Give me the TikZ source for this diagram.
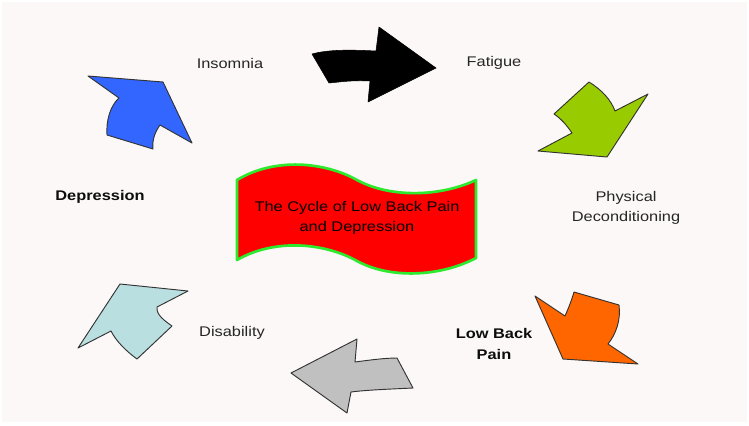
\documentclass[tikz,border=0pt]{standalone}
\usepackage{fontspec}
\setmainfont{Liberation Sans}[FakeStretch=1.17]

\definecolor{paper}{HTML}{FCF8F7}
\definecolor{leaf}{HTML}{99CC00}
\definecolor{rust}{HTML}{FF6600}
\definecolor{ash}{HTML}{C0C0C0}
\definecolor{ice}{HTML}{B9DFE1}
\definecolor{sky}{HTML}{3366FF}
\definecolor{lime}{HTML}{2EEA2E}

\begin{document}
\begin{tikzpicture}[x=0.75pt,y=-0.75pt,
  shp/.style={draw=black!80, line width=0.7pt, line join=round},
  lbl/.style={text=black!85, font=\fontsize{10.5}{15}\selectfont, align=center, inner sep=0pt}]
  \useasboundingbox (0,0) rectangle (749,425);
  \fill [white] (0,0) rectangle (749,425);
  \fill [paper] (2,2) rectangle (747,422);

  % banner in the middle
  \draw [lime, line width=2pt, fill=red, line join=round]
    (237,180) .. controls (275,157) and (325,162) .. (357,180)
              .. controls (390,198) and (440,197) .. (476,180)
           -- (476,258) .. controls (440,277) and (390,279) .. (357,261)
              .. controls (325,243) and (275,238) .. (237,260) -- cycle;
  \node [lbl, text=black] (title) at (357,218) {The Cycle of Low Back Pain\\and Depression};

  % the six arrows of the cycle
  \draw [fill=black, line join=round]
    (312,54) .. controls (330,49) and (355,50) .. (376,51) -- (379,27) -- (436,68)
    -- (368,102) -- (370,81) .. controls (352,80) and (340,82) .. (329,83) -- cycle;
  \draw [shp, fill=leaf]
    (589,82) .. controls (602,90) and (611,100) .. (615,111) -- (648,94) -- (607,157)
    -- (538,151) -- (572,133) .. controls (566,124) and (560,118) .. (554,114) -- cycle;
  \draw [shp, fill=rust]
    (535,296) -- (565,316) .. controls (569,307) and (572,299) .. (574,292) -- (619,305)
    .. controls (621,320) and (616,334) .. (608,344) -- (638,364) -- (563,359) -- cycle;
  \draw [shp, fill=ash]
    (291,373) -- (357,339) -- (355,362) .. controls (370,360) and (385,358) .. (397,358)
    -- (413,388) .. controls (392,389) and (366,390) .. (351,392) -- (347,413) -- cycle;
  \draw [shp, fill=ice]
    (120,284) -- (188,291) -- (157,307) .. controls (156,315) and (165,321) .. (172,326)
    -- (137,359) .. controls (126,351) and (116,341) .. (111,331) -- (78,348) -- cycle;
  \draw [shp, fill=sky]
    (88,76) -- (163,82) -- (192,143) -- (160,125) .. controls (155,132) and (152,140) .. (153,149)
    -- (107,135) .. controls (106,121) and (110,106) .. (119,98) -- cycle;

  % labels
  \node [lbl] (insomnia) at (230,63) {Insomnia};
  \node [lbl] (fatigue) at (494,63) {Fatigue};
  \node [lbl] (physical) at (626,208) {Physical\\Deconditioning};
  \node [lbl, text=black!95, font=\fontsize{10.5}{15.5}\selectfont\bfseries] (lowback) at (494,344) {Low Back\\Pain};
  \node [lbl] (disability) at (232,333) {Disability};
  \node [lbl, text=black!95, font=\fontsize{10.5}{15}\selectfont\bfseries] (depression) at (100,197) {Depression};
\end{tikzpicture}
\end{document}
